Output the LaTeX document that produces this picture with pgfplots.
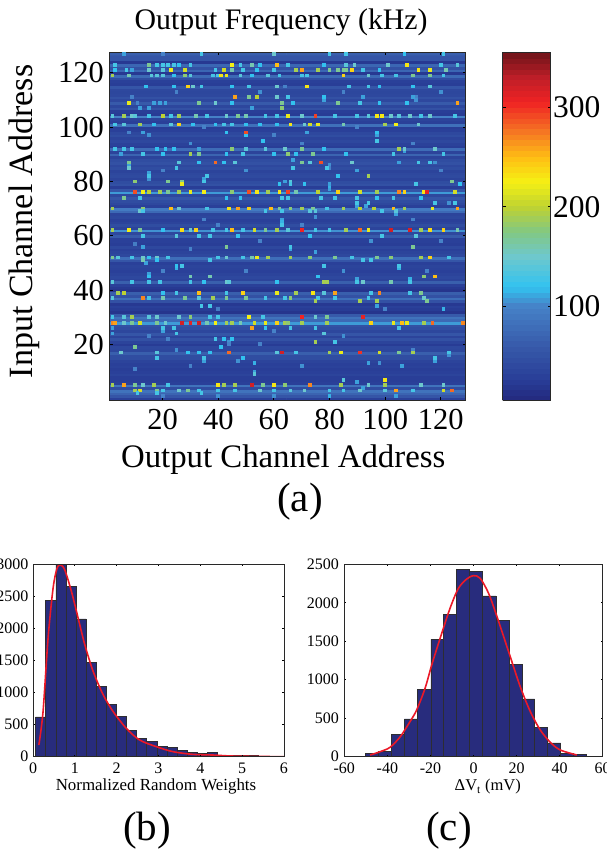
\documentclass[border=0pt]{standalone}
\usepackage{pgfplots}
\usepackage{fontspec}
\setmainfont{Liberation Serif}
\pgfplotsset{compat=1.18}
\newcommand{\fs}[1]{\fontsize{#1}{#1}\selectfont}
\definecolor{barfill}{RGB}{40,44,125}
\definecolor{baredge}{RGB}{45,45,50}
\definecolor{fitred}{RGB}{235,25,40}
\definecolor{frame}{RGB}{40,40,40}
\pgfplotsset{
 mycmap/.style={colormap={chipjet}{rgb255(5pt)=(35,40,125); rgb255(25pt)=(40,60,150); rgb255(60pt)=(55,90,170); rgb255(100pt)=(70,130,200); rgb255(120pt)=(50,195,240); rgb255(150pt)=(110,200,205); rgb255(175pt)=(130,200,130); rgb255(200pt)=(190,210,50); rgb255(225pt)=(245,240,20); rgb255(250pt)=(255,190,20); rgb255(275pt)=(245,120,35); rgb255(305pt)=(240,35,35); rgb255(330pt)=(190,30,40); rgb255(355pt)=(110,20,25)}},
 every axis/.append style={axis line style={frame,line width=0.9pt},tick style={black,line width=0.8pt},/pgf/number format/assume math mode=true,/pgf/number format/1000 sep={}},
}
\begin{document}
\begin{tikzpicture}[x=1pt,y=1pt]
\path[use as bounding box,clip] (0,0) rectangle (606,853);
\begin{axis}[at={(109.5pt,453pt)},anchor=south west,width=356pt,height=347.5pt,scale only axis,
 mycmap,point meta min=5.5,point meta max=355,
 xmin=0.9,xmax=128.9,ymin=-0.5,ymax=127.5,axis on top,
 xtick={20,40,60,80,100,120},ytick={20,40,60,80,100,120},tick align=inside,major tick length=3pt,
 tick label style={font=\fs{30.5}},
 xticklabel style={yshift=-6pt},yticklabel style={xshift=-2pt},
 title={Output Frequency (kHz)},title style={font=\fs{29.8},at={(0.482,1)},anchor=base,yshift=17pt},
 xlabel={Output Channel Address},xlabel style={font=\fs{32.8},at={(0.488,0)},anchor=base,yshift=-68pt},
 ylabel={Input Channel Address},ylabel style={font=\fs{34},at={(0,0.514)},anchor=base,rotate=0,yshift=77pt},
 colorbar sampled,colorbar style={at={(parent axis.north east)},anchor=north west,xshift=28.5pt,width=48pt,height=348pt,samples=65,
   ytick={100,200,300},tick align=inside,major tick length=3pt,
   yticklabel style={font=\fs{31.5},xshift=-1pt},axis line style={frame,line width=0.9pt}},
]
\addplot[matrix plot*,mesh/cols=2,point meta=explicit] coordinates {
(1,0)[30](128,0)[30] (1,1)[55](128,1)[55] (1,2)[70](128,2)[70] (1,3)[85](128,3)[85] (1,4)[45](128,4)[45] (1,5)[85](128,5)[85] (1,6)[30](128,6)[30] (1,7)[28](128,7)[28] (1,8)[28](128,8)[28] (1,9)[35](128,9)[35]
(1,10)[30](128,10)[30] (1,11)[28](128,11)[28] (1,12)[32](128,12)[32] (1,13)[30](128,13)[30] (1,14)[35](128,14)[35] (1,15)[45](128,15)[45] (1,16)[45](128,16)[45] (1,17)[65](128,17)[65] (1,18)[38](128,18)[38] (1,19)[40](128,19)[40]
(1,20)[25](128,20)[25] (1,21)[35](128,21)[35] (1,22)[50](128,22)[50] (1,23)[35](128,23)[35] (1,24)[55](128,24)[55] (1,25)[38](128,25)[38] (1,26)[45](128,26)[45] (1,27)[50](128,27)[50] (1,28)[108](128,28)[108] (1,29)[75](128,29)[75]
(1,30)[85](128,30)[85] (1,31)[60](128,31)[60] (1,32)[18](128,32)[18] (1,33)[25](128,33)[25] (1,34)[30](128,34)[30] (1,35)[22](128,35)[22] (1,36)[50](128,36)[50] (1,37)[80](128,37)[80] (1,38)[50](128,38)[50] (1,39)[65](128,39)[65]
(1,40)[18](128,40)[18] (1,41)[22](128,41)[22] (1,42)[30](128,42)[30] (1,43)[65](128,43)[65] (1,44)[35](128,44)[35] (1,45)[40](128,45)[40] (1,46)[35](128,46)[35] (1,47)[30](128,47)[30] (1,48)[32](128,48)[32] (1,49)[35](128,49)[35]
(1,50)[30](128,50)[30] (1,51)[55](128,51)[55] (1,52)[80](128,52)[80] (1,53)[40](128,53)[40] (1,54)[35](128,54)[35] (1,55)[30](128,55)[30] (1,56)[40](128,56)[40] (1,57)[28](128,57)[28] (1,58)[30](128,58)[30] (1,59)[30](128,59)[30]
(1,60)[60](128,60)[60] (1,61)[40](128,61)[40] (1,62)[105](128,62)[105] (1,63)[35](128,63)[35] (1,64)[45](128,64)[45] (1,65)[35](128,65)[35] (1,66)[30](128,66)[30] (1,67)[38](128,67)[38] (1,68)[35](128,68)[35] (1,69)[75](128,69)[75]
(1,70)[92](128,70)[92] (1,71)[30](128,71)[30] (1,72)[40](128,72)[40] (1,73)[45](128,73)[45] (1,74)[55](128,74)[55] (1,75)[40](128,75)[40] (1,76)[108](128,76)[108] (1,77)[55](128,77)[55] (1,78)[28](128,78)[28] (1,79)[50](128,79)[50]
(1,80)[45](128,80)[45] (1,81)[35](128,81)[35] (1,82)[42](128,82)[42] (1,83)[40](128,83)[40] (1,84)[35](128,84)[35] (1,85)[45](128,85)[45] (1,86)[40](128,86)[40] (1,87)[50](128,87)[50] (1,88)[45](128,88)[45] (1,89)[35](128,89)[35]
(1,90)[70](128,90)[70] (1,91)[35](128,91)[35] (1,92)[78](128,92)[78] (1,93)[28](128,93)[28] (1,94)[32](128,94)[32] (1,95)[40](128,95)[40] (1,96)[35](128,96)[35] (1,97)[45](128,97)[45] (1,98)[40](128,98)[40] (1,99)[30](128,99)[30]
(1,100)[28](128,100)[28] (1,101)[82](128,101)[82] (1,102)[30](128,102)[30] (1,103)[35](128,103)[35] (1,104)[98](128,104)[98] (1,105)[25](128,105)[25] (1,106)[28](128,106)[28] (1,107)[50](128,107)[50] (1,108)[38](128,108)[38] (1,109)[60](128,109)[60]
(1,110)[40](128,110)[40] (1,111)[50](128,111)[50] (1,112)[40](128,112)[40] (1,113)[38](128,113)[38] (1,114)[40](128,114)[40] (1,115)[55](128,115)[55] (1,116)[28](128,116)[28] (1,117)[30](128,117)[30] (1,118)[45](128,118)[45] (1,119)[75](128,119)[75]
(1,120)[22](128,120)[22] (1,121)[72](128,121)[72] (1,122)[50](128,122)[50] (1,123)[72](128,123)[72] (1,124)[22](128,124)[22] (1,125)[55](128,125)[55] (1,126)[55](128,126)[55] (1,127)[65](128,127)[65]
};
\addplot[scatter,only marks,mark=square*,mark size=1.4pt,line width=0pt,scatter src=explicit,scatter/use mapped color={draw=mapped color,fill=mapped color}]
 table[header=false,row sep=\\,x index=0,y index=1,meta index=2] {
15 83 110\\15 82 110\\15 81 105\\35 81 110\\8 86 110\\50 97 120\\97 97 110\\78 110 110\\111 111 100\\111 110 105\\107 91 110\\67 88 110\\80 86 105\\80 85 100\\118 87 105\\64 80 110\\90 71 110\\93 71 110\\123 72 105\\80 78 115\\80 77 110\\104 68 110\\63 66 110\\63 65 115\\14 50 110\\25 48 115\\15 46 110\\53 13 115\\53 10 110\\47 14 105\\35 14 110\\44 21 105\\44 20 100\\20 25 110\\66 55 110\\75 54 110\\105 48 115\\90 44 110\\109 44 115\\121 33 115\\97 34 110\\94 13 110\\98 13 105\\106 12 110\\118 14 110\\123 16 105\\90 6 110\\92 4 110\\80 1 115\\104 1 110\\40 1 105\\20 1 100\\60 1 105\\10 11 100\\30 12 100\\70 12 105\\110 18 100\\25 18 105\\55 20 100\\85 23 105\\15 23 100\\60 25 100\\100 33 100\\40 33 95\\20 47 100\\50 47 100\\85 47 105\\115 47 100\\30 55 100\\55 58 100\\95 58 105\\120 58 100\\10 57 95\\35 66 100\\75 67 105\\110 66 100\\20 84 100\\50 84 105\\90 84 110\\120 84 100\\70 94 100\\30 94 105\\110 94 100\\15 97 105\\60 97 100\\90 100 100\\35 100 100\\55 113 105\\25 113 100\\85 113 100\\120 113 105\\
34 127 130\\6 127 110\\20 127 100\\60 127 150\\80 127 130\\86 127 130\\121 127 130\\107 127 120\\
3 123 130\\15 123 170\\18 123 130\\20 123 130\\22 123 130\\24 123 130\\26 123 120\\30 123 130\\45 123 225\\48 123 130\\52 123 160\\61 123 250\\55 123 120\\65 123 130\\78 123 120\\86 123 140\\89 123 150\\101 123 150\\108 123 230\\120 123 130\\126 123 140\\
3 121 120\\7 121 130\\9 121 110\\15 121 150\\20 121 140\\23 121 220\\28 121 210\\39 121 130\\42 121 210\\45 121 160\\49 121 130\\54 121 120\\60 121 130\\70 121 260\\68 121 190\\76 121 190\\80 121 170\\83 121 170\\85 121 170\\86 121 170\\88 121 240\\92 121 130\\98 121 120\\112 121 230\\116 121 220\\122 121 160\\
2 119 190\\8 119 160\\16 119 140\\18 119 140\\20 119 140\\24 119 120\\28 119 180\\30 119 140\\38 119 130\\40 119 130\\41 119 230\\43 119 220\\48 119 140\\52 119 120\\58 119 140\\62 119 130\\70 119 130\\72 119 130\\85 119 240\\94 119 150\\99 119 130\\104 119 130\\110 119 170\\116 119 170\\121 119 130\\
14 115 120\\24 115 120\\29 115 240\\31 115 150\\34 115 130\\45 115 120\\51 115 130\\61 115 150\\64 115 100\\72 115 230\\87 115 130\\94 115 130\\98 115 120\\110 115 120\\116 115 140\\
46 111 260\\51 111 170\\54 111 200\\61 111 150\\9 111 100\\65 111 130\\78 111 120\\92 111 110\\110 111 110\\
8 109 220\\11 109 100\\17 109 110\\19 109 110\\21 109 110\\33 109 170\\39 109 150\\45 109 120\\63 109 170\\67 109 120\\83 109 170\\91 109 130\\98 109 120\\108 109 120\\126 109 260\\
12 107 110\\15 107 110\\52 107 110\\63 107 180\\
2 104 140\\6 104 190\\9 104 150\\10 104 140\\15 104 130\\20 104 200\\23 104 130\\26 104 190\\32 104 160\\36 104 130\\43 104 150\\47 104 170\\50 104 160\\57 104 130\\61 104 130\\65 104 220\\70 104 150\\75 104 295\\82 104 130\\90 104 130\\94 104 140\\97 104 230\\99 104 230\\102 104 150\\105 104 140\\109 104 150\\113 104 130\\116 104 150\\125 104 130\\
3 101 130\\6 101 140\\12 101 190\\17 101 120\\23 101 140\\26 101 240\\31 101 120\\39 101 120\\42 101 130\\45 101 130\\50 101 120\\55 101 120\\61 101 120\\66 101 230\\71 101 150\\73 101 210\\76 101 220\\85 101 160\\100 101 190\\104 101 225\\112 101 150\\
50 98 290\\13 98 110\\8 98 100\\43 98 120\\72 98 110\\97 98 120\\56 95 120\\97 95 130\\
3 92 130\\6 92 130\\9 92 130\\18 92 120\\21 92 120\\24 92 120\\33 92 110\\45 92 180\\50 92 140\\57 92 140\\64 92 150\\70 92 170\\78 92 120\\105 92 190\\107 92 150\\118 92 150\\
5 90 110\\13 90 130\\20 90 120\\30 90 190\\33 90 170\\43 90 120\\49 90 130\\60 90 120\\65 90 180\\68 90 120\\74 90 170\\86 90 120\\103 90 130\\121 90 130\\
8 87 170\\39 87 280\\42 87 120\\46 87 140\\26 87 140\\33 87 120\\70 87 170\\73 87 140\\77 87 290\\88 87 150\\105 87 110\\116 87 130\\112 87 130\\
8 85 150\\25 85 130\\67 85 130\\79 85 130\\15 82 130\\36 82 130\\94 82 190\\83 82 120\\
10 80 180\\22 80 170\\35 80 130\\27 80 170\\66 80 140\\124 80 170\\27 79 220\\62 79 120\\66 79 130\\71 79 120\\80 79 110\\111 79 130\\127 79 120\\
10 76 290\\13 76 225\\15 76 200\\19 76 190\\22 76 170\\26 76 190\\30 76 220\\35 76 225\\45 76 180\\51 76 290\\54 76 230\\58 76 190\\62 76 230\\65 76 295\\68 76 160\\76 76 200\\83 76 240\\91 76 210\\97 76 190\\105 76 270\\107 76 240\\114 76 230\\115 76 310\\125 76 210\\
6 74 170\\12 74 130\\43 74 120\\48 74 120\\63 74 130\\65 74 130\\77 74 130\\82 74 130\\90 74 130\\97 74 120\\103 74 130\\113 74 120\\90 72 130\\94 72 130\\118 72 130\\125 72 130\\
2 70 190\\13 70 180\\23 70 250\\26 70 150\\36 70 130\\44 70 230\\47 70 260\\51 70 240\\59 70 250\\62 70 170\\66 70 180\\70 70 190\\74 70 170\\79 70 130\\85 70 190\\91 70 200\\96 70 200\\103 70 250\\107 70 190\\117 70 220\\126 70 260\\
12 69 150\\13 69 130\\57 69 130\\63 69 130\\73 69 140\\75 69 140\\99 69 130\\104 69 140\\63 64 130\\40 64 100\\70 64 100\\
2 62 190\\8 62 225\\12 62 170\\20 62 120\\27 62 235\\30 62 150\\32 62 240\\38 62 130\\43 62 130\\45 62 250\\49 62 130\\53 62 210\\57 62 170\\61 62 190\\65 62 140\\70 62 305\\75 62 130\\80 62 130\\86 62 190\\91 62 280\\94 62 220\\102 62 320\\109 62 315\\113 62 190\\116 62 235\\121 62 240\\126 62 160\\
13 60 130\\25 60 140\\33 60 130\\37 60 130\\47 60 120\\73 60 120\\99 60 130\\111 60 140\\43 56 170\\13 56 110\\66 56 130\\110 56 170\\
2 52 170\\4 52 140\\9 52 130\\13 52 150\\15 52 120\\18 52 150\\22 52 130\\40 52 130\\43 52 150\\49 52 130\\52 52 160\\54 52 220\\58 52 190\\66 52 190\\73 52 180\\82 52 170\\88 52 130\\97 52 170\\102 52 180\\113 52 190\\116 52 240\\123 52 130\\
13 51 160\\18 51 120\\37 51 130\\92 51 130\\95 51 130\\25 49 120\\27 49 130\\78 49 130\\105 49 130\\
15 45 120\\30 45 160\\37 45 160\\76 45 120\\114 45 180\\118 45 250\\
2 43 140\\9 43 130\\15 43 130\\19 43 130\\30 43 130\\35 43 120\\43 43 150\\44 43 140\\61 43 120\\78 43 190\\79 43 190\\92 43 150\\102 43 160\\109 43 130\\90 43 130\\
6 39 200\\4 39 190\\20 39 120\\25 39 130\\33 39 250\\49 39 240\\61 39 220\\43 39 130\\68 39 190\\74 39 230\\82 39 260\\98 39 270\\78 39 140\\95 39 130\\109 39 130\\113 39 170\\
2 37 140\\13 37 270\\15 37 130\\20 37 160\\28 37 170\\33 37 140\\38 37 190\\43 37 170\\50 37 170\\57 37 130\\64 37 130\\66 37 180\\76 37 130\\82 37 130\\94 37 130\\114 37 150\\75 36 190\\91 36 190\\97 36 190\\115 36 170\\34 34 130\\37 34 130\\
2 30 130\\9 30 190\\6 30 140\\15 30 140\\18 30 150\\30 30 180\\26 30 150\\37 30 130\\40 30 130\\51 30 225\\56 30 130\\70 30 305\\92 30 310\\75 30 150\\79 30 170\\
2 28 270\\3 28 260\\6 28 150\\9 28 170\\12 28 210\\18 28 170\\21 28 150\\27 28 320\\30 28 310\\33 28 320\\36 28 160\\39 28 225\\43 28 190\\45 28 190\\48 28 160\\53 28 210\\57 28 220\\61 28 240\\64 28 190\\65 28 180\\70 28 190\\79 28 190\\95 28 240\\103 28 220\\106 28 250\\108 28 220\\114 28 190\\117 28 280\\128 28 270\\
20 26 130\\24 26 130\\52 26 260\\2 26 110\\57 26 120\\66 26 130\\75 26 130\\105 26 130\\25 24 130\\2 24 110\\78 24 140\\42 22 120\\39 22 130\\45 22 120\\22 22 100\\75 21 190\\82 21 130\\10 19 170\\41 19 120\\
5 17 150\\18 17 140\\29 17 120\\33 17 120\\44 17 280\\37 17 120\\61 17 140\\63 17 320\\68 17 130\\80 17 190\\84 17 220\\91 17 300\\98 17 210\\105 17 170\\110 17 190\\123 17 130\\18 15 130\\35 15 130\\49 15 120\\118 15 130\\53 9 140\\100 7 230\\85 7 140\\
2 5 190\\6 5 260\\10 5 170\\13 5 150\\17 5 190\\22 5 130\\40 5 230\\42 5 190\\46 5 190\\52 5 320\\56 5 170\\60 5 230\\64 5 180\\73 5 270\\84 5 190\\94 5 150\\100 5 190\\113 5 150\\121 5 150\\
10 3 190\\12 3 210\\18 3 170\\20 3 130\\26 3 150\\29 3 170\\33 3 130\\40 3 130\\46 3 130\\55 3 150\\60 3 130\\66 3 140\\71 3 150\\80 3 130\\85 3 130\\91 3 150\\100 3 140\\104 3 260\\110 3 130\\121 3 210\\124 3 280\\11 2 130\\18 2 130\\34 2 130\\
};
\end{axis}
\begin{axis}[at={(33pt,96.3pt)},anchor=south west,width=251pt,height=192.4pt,scale only axis,
 xmin=0,xmax=6,ymin=0,ymax=3000,axis on top,
 xtick={0,1,2,3,4,5,6},ytick={0,500,1000,1500,2000,2500,3000},tick align=inside,major tick length=2pt,
 tick label style={font=\fs{16}},xticklabel style={yshift=-3pt},yticklabel style={xshift=-1pt},
 xlabel={Normalized Random Weights},xlabel style={font=\fs{16.9},at={(0.49,0)},anchor=base,yshift=-34pt}]
\addplot[ybar interval,fill=barfill,draw=baredge,line width=0.6pt] coordinates {
(0.064,620)(0.305,2440)(0.547,3000)(0.788,2650)(1.03,2150)(1.271,1470)(1.513,1100)(1.754,820)(1.996,630)(2.237,410)(2.479,290)(2.72,240)(2.962,160)(3.203,140)(3.445,95)(3.686,70)(3.928,50)(4.169,70)(4.411,25)(4.652,20)(4.894,15)(5.135,15)(5.377,10)(5.618,5)(5.86,5)(6.0,5)};
\addplot[fitred,line width=1.6pt,smooth] coordinates {
(0.14,182)(0.24,700)(0.36,1846)(0.48,2626)(0.575,2938)(0.66,2990)(0.76,2912)(0.92,2574)(1.08,2158)(1.24,1742)(1.44,1326)(1.68,962)(1.92,700)(2.23,442)(2.55,260)(2.95,156)(3.35,78)(3.83,36)(4.31,26)(4.79,10)(6,0)};
\end{axis}
\begin{axis}[at={(344.3pt,96.3pt)},anchor=south west,width=258.4pt,height=192.4pt,scale only axis,
 xmin=-60,xmax=60,ymin=0,ymax=2500,axis on top,
 xtick={-60,-40,-20,0,20,40,60},xticklabels={-60,-40,-20,0,20,40,60},ytick={0,500,1000,1500,2000,2500},tick align=inside,major tick length=2pt,
 tick label style={font=\fs{16}},xticklabel style={yshift=-3pt},yticklabel style={xshift=-2pt},
 xlabel={ΔV\textsubscript{t} (mV)},xlabel style={font=\fs{16.5},at={(0.555,0)},anchor=base,yshift=-34pt}]
\addplot[ybar interval,fill=barfill,draw=baredge,line width=0.6pt] coordinates {
(-50.2,45)(-44,70)(-38,290)(-32.1,490)(-26,870)(-19.8,1525)(-13.8,1850)(-7.8,2430)(-1.9,2410)(4.2,2090)(10.4,1770)(16.4,1200)(22.5,750)(28.4,380)(34.5,180)(40.5,45)(46.5,30)(52.6,30)};
\addplot[fitred,line width=1.6pt,smooth] coordinates {
(-48,22)(-43.4,65)(-38.8,121)(-34,260)(-29.5,455)(-26.4,607)(-22.5,888)(-19.4,1192)(-15.5,1538)(-10.9,1928)(-7,2188)(-3.1,2310)(0,2353)(3.1,2318)(7,2123)(10.9,1820)(16.3,1365)(21.7,910)(26.4,585)(31,347)(35.7,186)(40.3,87)(48,22)};
\end{axis}
\node[font=\fs{41}] at (300pt,351pt) {(a)};
\node[font=\fs{41}] at (147pt,22pt) {(b)};
\node[font=\fs{41}] at (449pt,22pt) {(c)};
\end{tikzpicture}
\end{document}
